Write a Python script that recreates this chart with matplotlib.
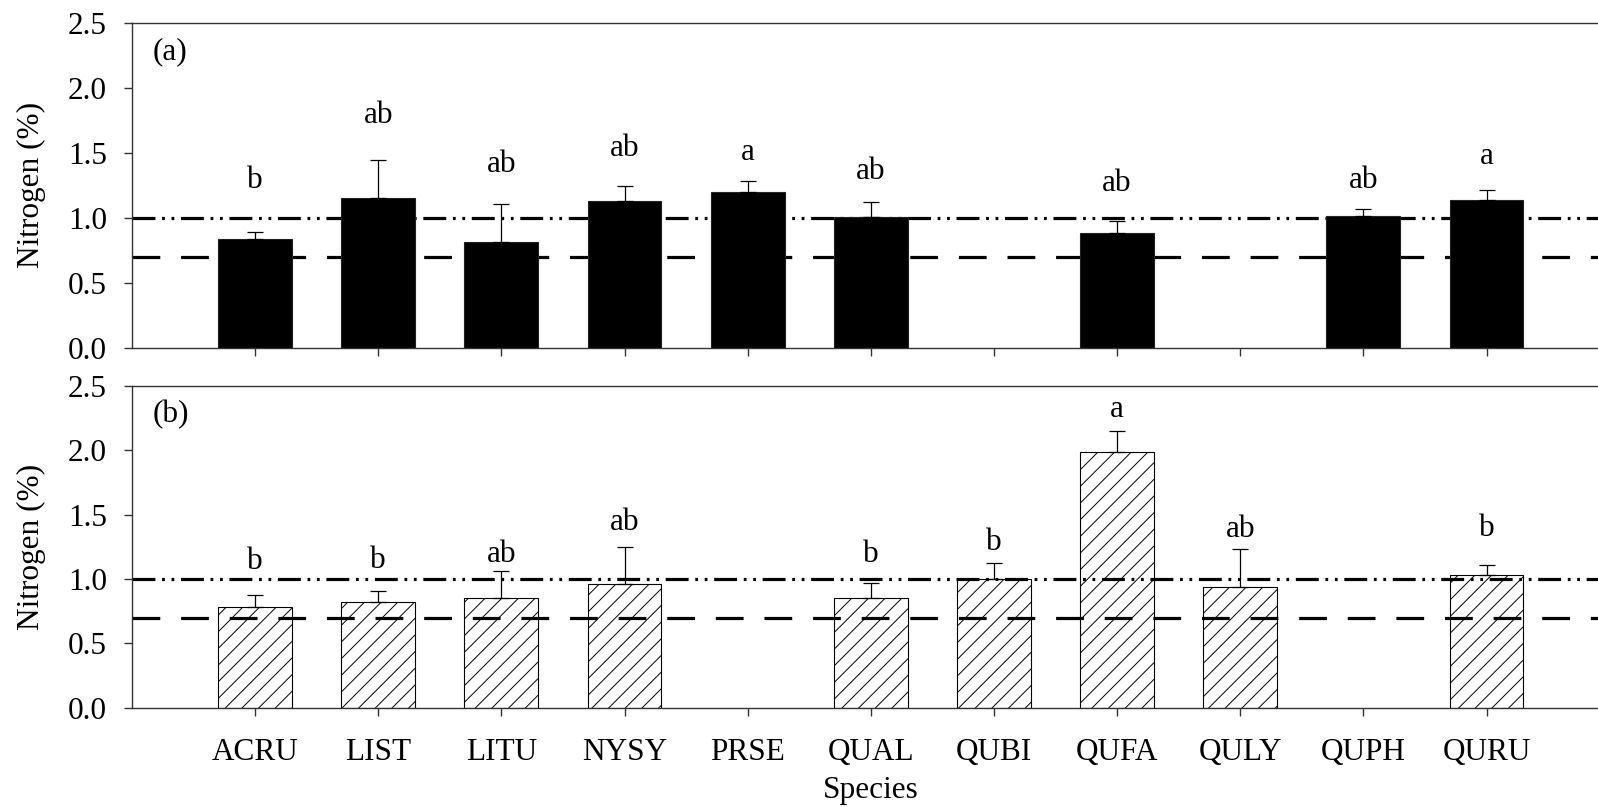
import numpy as np
import matplotlib.pyplot as plt

plt.rcParams["font.family"] = ["Liberation Serif", "DejaVu Serif"]
plt.rcParams["lines.scale_dashes"] = False
plt.rcParams["hatch.linewidth"] = 0.7

species = ["ACRU", "LIST", "LITU", "NYSY", "PRSE", "QUAL",
           "QUBI", "QUFA", "QULY", "QUPH", "QURU"]

# panel (a)
n_a = [0.834, 1.154, 0.813, 1.128, 1.195, 1.008, np.nan, 0.882, np.nan, 1.011, 1.134]
se_a = [0.054, 0.29, 0.29, 0.116, 0.087, 0.11, np.nan, 0.09, np.nan, 0.054, 0.081]
grp_a = ["b", "ab", "ab", "ab", "a", "ab", "", "ab", "", "ab", "a"]
grp_a_y = [1.226, 1.726, 1.354, 1.475, 1.444, 1.295, np.nan, 1.205, np.nan, 1.226, 1.413]

# panel (b)
n_b = [0.785, 0.819, 0.852, 0.959, np.nan, 0.850, 0.998, 1.984, 0.935, np.nan, 1.031]
se_b = [0.091, 0.09, 0.21, 0.29, np.nan, 0.121, 0.129, 0.168, 0.295, np.nan, 0.078]
grp_b = ["b", "b", "ab", "ab", "", "b", "b", "a", "ab", "", "b"]
grp_b_y = [1.075, 1.083, 1.134, 1.381, np.nan, 1.134, 1.225, 2.256, 1.329, np.nan, 1.336]

ref_high = 1.0
ref_low = 0.7

FS = 22.5

fig = plt.figure(figsize=(15.98, 8.07), dpi=100)
ax_a = fig.add_axes([0.0826, 0.5691, 0.9247, 0.4028])
ax_b = fig.add_axes([0.0826, 0.1230, 0.9247, 0.3987])

x = np.arange(len(species))
spine_col = "#333333"


def draw_panel(ax, vals, errs, groups, group_y, tag, hatched):
    vals = np.array(vals, dtype=float)
    errs = np.array(errs, dtype=float)
    if hatched:
        ax.bar(x, vals, width=0.6, facecolor="none", edgecolor="black",
               hatch="//", linewidth=0.8, zorder=2)
    else:
        ax.bar(x, vals, width=0.6, color="black", edgecolor="#222222",
               linewidth=0.8, zorder=2)
    ax.errorbar(x, vals, yerr=[np.zeros_like(errs), errs], fmt="none",
                ecolor="black", elinewidth=0.9, capsize=6, capthick=0.9, zorder=3)
    ax.axhline(ref_high, color="black", lw=2.3,
               dashes=(16.5, 4.8, 2, 4.8, 2, 4.8), zorder=1.5)
    ax.axhline(ref_low, color="black", lw=2.3, dashes=(20, 15), zorder=1.5)
    for xi, g, gy in zip(x, groups, group_y):
        if g:
            ax.text(xi, gy, g, ha="center", va="baseline", fontsize=FS)
    ax.text(0.014, 0.91, tag, transform=ax.transAxes, ha="left",
            va="center", fontsize=FS)

    ax.set_xlim(-1, 11)
    ax.set_ylim(0, 2.5)
    ax.set_yticks([0, 0.5, 1.0, 1.5, 2.0, 2.5])
    ax.set_yticklabels(["0.0", "0.5", "1.0", "1.5", "2.0", "2.5"])
    ax.set_xticks(x)
    ax.set_ylabel("Nitrogen (%)", fontsize=FS, labelpad=16)
    ax.tick_params(direction="out", length=6, width=1, color=spine_col,
                   labelsize=FS, pad=12)
    ax.tick_params(axis="x", pad=16)
    for side in ["left", "bottom", "top"]:
        ax.spines[side].set_color(spine_col)
        ax.spines[side].set_linewidth(1)
    ax.spines["right"].set_visible(False)


draw_panel(ax_a, n_a, se_a, grp_a, grp_a_y, "(a)", hatched=False)
draw_panel(ax_b, n_b, se_b, grp_b, grp_b_y, "(b)", hatched=True)

ax_a.set_xticklabels([])
ax_b.set_xticklabels(species)
ax_b.set_xlabel("Species", fontsize=FS, labelpad=6)

fig.savefig("out.png", dpi=100)
